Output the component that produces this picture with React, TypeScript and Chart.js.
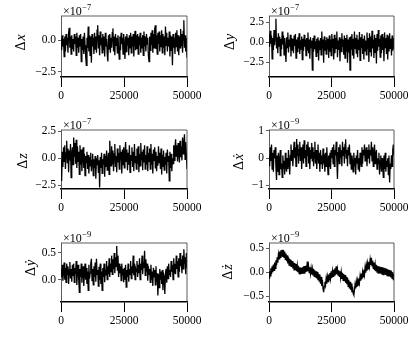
import React, { useEffect, useRef } from "react";
import { Chart, registerables } from "chart.js";

Chart.register(...registerables);

// ---------- data (values in units of the panel's exponent) ----------
const X_MAX = 50000;
const xTickValues = [0, 25000, 50000];

const dxValues = [
  0.2, -0.8, 0.4, -0.5, 0.1, -1.3, 0.3, -0.9, 0.5, -0.4, 0.2, -1.0, 0.6, 1.0, -0.6, 0.3, -1.1, 0.4, -0.7, 0.1,
  -0.9, 0.5, -0.3, 0.3, -1.2, 0.6, -0.6, 0.2, -1.0, 0.4, -0.5, 0.5, -1.7, 0.1, -0.8, 0.3, -1.1, 0.6, -0.4, -1.3,
  -2.0, 0.2, -0.6, 1.1, -0.9, 0.4, -1.2, 0.3, -1.8, 0.5, -0.5, 0.2, -1.1, 0.6, -0.7, 0.3, -1.0, 0.8, 1.2, -0.6,
  0.4, -1.2, 0.7, -0.4, 0.2, -1.0, 0.5, -0.8, 0.3, -1.3, 0.6, -0.5, 0.1, -1.1, -1.7, 0.4, -0.7, 0.5, -1.0, 0.2,
  -0.6, 0.6, 0.95, -0.9, 0.3, -1.2, 0.5, -0.4, 0.2, -1.0, 0.4, -0.7, -1.5, 0.3, -0.8, 0.6, -0.3, 0.2, -1.1, 0.5,
  -0.5, -1.5, 0.3, -0.9, 0.5, -0.4, 0.2, -1.2, 0.4, -0.6, 0.6, -1.0, 0.3, -0.5, 0.5, -1.3, 0.2, 0.75, -0.8, 0.4,
  -0.7, 0.5, -1.1, 0.3, -0.4, 0.6, -1.0, 0.2, -0.6, 0.4, -1.2, 0.7, -0.5, 0.3, -0.9, 0.5, -0.3, 0.2, -1.2, -1.7,
  0.3, -0.8, 0.6, -0.4, 0.8, -1.0, 0.5, -0.6, 0.9, 1.2, -0.7, 0.4, -1.1, 0.6, -0.3, 0.7, -0.9, 0.4, -0.5, 0.8,
  -1.0, 0.5, -0.6, 0.3, -1.2, 1.1, -0.4, 0.6, -0.9, 0.2, -0.5, 0.7, -1.3, 0.4, -0.8, 0.3, -2.0, 0.5, -0.6, 0.2,
  -1.1, 0.6, -0.5, 0.8, -0.9, 0.4, -1.2, 0.3, -0.6, 0.9, -0.4, 0.5, -1.0, 0.7, 1.6, -0.6, 0.4, -0.9, 0.2, -1.4,
];

const dyValues = [
  1.0, -0.6, 1.4, -0.2, 0.8, -2.1, 0.5, -1.0, 1.5, -0.4, 0.9, 2.9, -0.8, 0.6, -1.4, 1.1, -0.5, 0.7, -1.7, 0.4,
  -0.9, 1.3, -0.3, 0.8, -1.6, 0.5, -1.1, -2.5, 0.6, -0.7, 1.2, -1.3, 0.3, -0.6, 0.9, -1.8, 0.5, -1.0, 0.4, -1.4,
  0.8, -0.5, 1.0, -2.0, 0.3, -1.2, 0.6, -0.8, 1.1, -1.5, 0.2, -0.9, 0.7, -2.2, 0.4, -1.1, 0.9, -0.6, 0.3, -1.7,
  0.5, -1.0, 1.2, -1.4, 0.3, -2.1, 0.6, -0.7, 0.2, -3.5, 0.5, -1.2, 0.8, -0.9, 0.1, -1.8, 0.4, -1.3, 0.6, -2.3,
  0.2, -1.0, 0.5, -1.6, 1.3, -0.8, 0.3, -2.6, 0.7, -1.1, 0.2, -1.5, 0.6, -0.9, 0.4, -2.0, 0.8, -1.2, 0.3, -1.7,
  1.0, -0.7, 0.4, -2.2, 0.9, -1.4, 0.5, -0.8, 1.3, -1.9, 0.2, -1.0, 0.6, -2.4, 0.4, -1.2, 1.1, -0.6, 0.3, -1.6,
  0.8, -2.0, 0.5, -1.1, 0.9, -2.6, 0.3, -1.3, 0.6, -3.5, 0.7, -0.9, 1.0, -1.7, 0.4, -2.1, 1.3, -0.8, 0.5, -1.4,
  0.9, -1.9, 0.3, -1.0, 1.25, -2.3, 0.6, -0.7, 1.0, -1.5, 0.4, -2.2, 0.8, -1.1, 0.2, -1.6, 1.2, -0.9, 0.5, -2.5,
  1.1, -1.2, 0.7, -1.8, 1.4, -0.8, 0.3, -2.0, 0.9, -1.3, 0.5, -2.7, 1.0, -1.1, 1.5, -0.6, 0.4, -1.9, 0.8, -1.4,
  1.0, -1.0, 0.6, -2.4, 1.2, -0.7, 0.5, -1.5, 0.9, -2.2, 0.7, -1.2, 1.1, -0.8, 0.4, -1.7, 0.8, -1.1, 0.5, -0.9,
];

const dzValues = [
  -0.2, -2.1, 0.6, -0.8, 1.0, -0.3, 1.2, -1.0, 0.5, 1.6, -0.4, 0.9, -1.3, 0.7, -0.2, 1.3, -1.8, 0.4, 1.0, -0.6,
  1.9, 0.2, 1.4, -0.5, 1.7, -0.9, 1.1, -0.3, 0.6, -1.5, 1.2, -0.6, 0.8, -1.2, 0.3, 1.0, -0.9, 0.4, -1.6, 0.2,
  -0.4, 0.6, -1.0, 0.3, -1.4, 0.1, -0.7, 0.5, -1.2, -0.2, 0.4, -1.6, -0.1, -0.9, 0.2, -1.9, 0.0, -0.6, 0.3, -1.3,
  -0.2, -2.7, 0.1, -0.9, 0.5, -1.4, -0.1, -0.6, 0.4, -1.7, 0.2, -0.8, 0.7, -1.1, -0.3, 0.5, -1.5, 1.6, 0.2, -0.7,
  1.1, -0.5, 0.7, -1.2, 0.4, 1.3, -0.8, 0.2, -1.3, 0.9, -0.4, 0.5, -1.0, 1.2, -0.2, 0.6, -1.4, 0.8, -0.6, 1.0,
  -0.9, 0.4, 1.5, -0.3, 0.8, -1.1, 0.5, -0.6, 1.2, -1.3, 0.3, -0.2, 1.0, -0.8, 0.6, -1.2, 1.3, -0.4, 0.2, -1.0,
  0.9, -0.5, 1.1, -1.3, 0.4, -0.7, 1.4, -0.2, 0.6, -1.1, 0.8, -0.4, 1.2, -1.0, 0.3, -0.6, 1.1, -1.2, 0.5, -0.3,
  0.9, -1.0, 1.3, -0.6, 0.4, -1.4, 0.8, -0.2, 1.0, -0.9, 0.6, -1.2, 0.2, -0.7, 1.1, -0.4, 0.5, -1.0, 0.9, -1.5,
  0.3, -0.8, 0.7, -1.1, 0.1, -0.6, 0.5, -1.4, 0.8, -0.3, 0.2, -2.1, 0.6, -0.9, 0.4, -1.2, 0.0, -0.5, 1.2, -0.2,
  0.9, 1.74, 0.2, 1.2, -0.3, 1.4, 0.5, -0.4, 1.6, 0.1, 1.1, -0.2, 1.9, 0.4, 1.3, 2.2, -0.1, 1.5, 0.3, -1.0,
];

const dxDotValues = [
  0.1, -0.3, 0.4, -0.1, 0.5, -0.4, 0.2, -0.5, 0.3, 0.0, 0.4, -0.3, -0.8, 0.1, -0.5, 0.2, -0.6, -0.1, 0.3, -0.4,
  -0.2, -0.7, 0.1, -0.4, -0.1, -0.6, 0.2, -0.3, -0.5, 0.0, -0.4, 0.3, -0.2, -0.6, 0.1, 0.5, -0.1, 0.3, -0.3, 0.2,
  0.6, 0.0, 0.4, -0.3, 0.7, 0.1, 0.5, -0.2, 0.3, 0.6, -0.1, 0.4, -0.4, 0.2, 0.5, -0.2, 0.65, 0.0, 0.3, -0.3,
  0.5, 0.1, 0.6, -0.2, 0.4, -0.4, 0.3, 0.0, 0.55, -0.1, 0.4, -0.3, 0.2, 0.6, -0.2, 0.3, -0.4, 0.1, 0.5, -0.2,
  0.2, -0.5, 0.3, -0.2, 0.1, -0.4, 0.35, -0.1, 0.0, -0.5, 0.2, -0.3, 0.4, -0.1, -0.6, 0.1, -0.3, 0.2, -0.4, 0.3,
  0.0, 0.4, -0.2, 0.5, -0.3, 0.3, 0.1, 0.6, -0.1, -0.76, 0.2, 0.4, -0.2, 0.5, 0.0, 0.3, -0.3, 0.6, 0.1, 0.4,
  -0.2, 0.5, 0.69, 0.0, 0.3, -0.3, 0.4, 0.1, 0.5, -0.2, 0.2, -0.4, 0.1, -0.1, -0.5, 0.2, -0.3, 0.0, -0.6, 0.1,
  -0.2, 0.3, -0.4, 0.0, -0.5, 0.2, -0.1, -0.3, 0.4, -0.2, 0.3, 0.1, 0.5, -0.1, 0.2, 0.4, -0.3, 0.3, 0.0, 0.5,
  -0.2, 0.3, 0.1, 0.6, -0.1, 0.4, -0.3, 0.2, 0.5, -0.2, 0.1, 0.3, -0.4, 0.0, -0.2, 0.2, -0.6, -0.1, 0.1, -0.5,
  0.0, -0.3, -0.7, 0.1, -0.4, 0.2, -0.5, -0.1, -0.3, 0.0, -0.6, 0.1, -0.89, -0.2, -0.4, 0.1, -0.3, 0.3, 0.5, 0.1,
];

const dyDotValues = [
  0.2, 0.05, 0.28, -0.02, 0.15, 0.32, 0.0, 0.22, -0.05, 0.3, 0.1, 0.25, -0.08, 0.18, 0.33, 0.02, 0.2, -0.04, 0.28, 0.08,
  0.3, -0.05, 0.22, 0.1, 0.35, -0.1, 0.15, 0.28, 0.0, -0.24, 0.2, 0.05, 0.3, -0.06, 0.18, 0.25, -0.12, 0.12, 0.3, 0.0,
  0.22, -0.08, 0.15, -0.2, 0.28, 0.02, 0.12, 0.3, 0.39, -0.02, 0.2, -0.1, 0.25, 0.05, 0.32, -0.04, 0.39, 0.1, 0.18, -0.12,
  0.24, 0.0, 0.3, -0.08, 0.15, -0.2, 0.22, 0.05, 0.3, -0.05, 0.18, 0.08, 0.35, 0.0, 0.25, 0.1, 0.4, 0.05, 0.3, 0.15,
  0.45, 0.1, 0.38, 0.2, 0.5, 0.12, 0.42, 0.25, 0.63, 0.18, 0.45, 0.05, 0.3, 0.12, 0.25, -0.02, 0.3, 0.08, 0.2, -0.05,
  0.22, 0.0, 0.28, -0.14, 0.18, 0.05, 0.3, -0.04, 0.2, 0.1, 0.35, 0.02, 0.25, 0.12, 0.45, 0.08, 0.3, 0.0, 0.2, 0.15,
  0.35, 0.05, 0.28, 0.12, 0.4, 0.0, 0.3, 0.18, 0.45, 0.1, 0.32, 0.22, 0.54, 0.08, 0.38, 0.15, 0.3, -0.02, 0.25, 0.1,
  0.2, -0.05, 0.28, 0.0, 0.15, -0.12, 0.22, 0.05, 0.18, -0.1, 0.25, -0.05, 0.12, -0.3, 0.1, -0.15, 0.2, 0.0, 0.15, -0.08,
  0.18, -0.2, 0.1, 0.05, -0.27, 0.12, 0.2, -0.06, 0.25, 0.02, 0.3, 0.1, 0.18, 0.05, 0.35, 0.15, 0.28, 0.0, 0.4, 0.12,
  0.3, 0.1, 0.45, 0.2, 0.35, 0.05, 0.4, 0.15, 0.5, 0.25, 0.38, 0.12, 0.45, 0.2, 0.57, 0.3, 0.42, 0.1, 0.5, 0.22,
];

const dzDotValues = [
  -0.12, 0.02, -0.08, 0.08, -0.04, 0.12, 0.0, 0.16, 0.04, 0.2, 0.08, 0.25, 0.14, 0.31, 0.2, 0.37, 0.28, 0.43, 0.31, 0.46,
  0.33, 0.47, 0.32, 0.46, 0.31, 0.43, 0.27, 0.39, 0.23, 0.35, 0.18, 0.31, 0.15, 0.28, 0.13, 0.26, 0.11, 0.23, 0.08, 0.2,
  0.05, 0.19, 0.04, 0.17, 0.02, 0.14, 0.0, 0.12, -0.03, 0.1, -0.05, 0.09, -0.04, 0.1, -0.03, 0.12, -0.02, 0.13, 0.0, 0.14,
  0.01, 0.22, 0.02, 0.12, -0.01, 0.1, -0.03, 0.08, -0.05, 0.06, -0.07, 0.07, -0.09, 0.04, -0.11, 0.02, -0.13, 0.0, -0.17, -0.04,
  -0.19, -0.05, -0.24, -0.1, -0.29, -0.16, -0.35, -0.42, -0.3, -0.2, -0.27, -0.13, -0.24, -0.1, -0.2, -0.05, -0.16, -0.02, -0.13, 0.02,
  -0.12, 0.02, -0.09, 0.05, -0.06, 0.08, -0.05, 0.12, -0.04, 0.06, -0.06, 0.04, -0.09, 0.02, -0.12, 0.0, -0.14, -0.02, -0.17, -0.04,
  -0.19, -0.06, -0.22, -0.1, -0.25, -0.12, -0.3, -0.16, -0.34, -0.2, -0.37, -0.24, -0.42, -0.3, -0.45, -0.48, -0.38, -0.26, -0.34, -0.2,
  -0.31, -0.18, -0.27, -0.13, -0.22, -0.08, -0.18, -0.03, -0.15, 0.0, -0.1, 0.05, -0.05, 0.1, -0.01, 0.14, 0.03, 0.18, 0.07, 0.22,
  0.12, 0.26, 0.15, 0.3, 0.13, 0.24, 0.08, 0.2, 0.04, 0.16, 0.02, 0.15, 0.0, 0.13, -0.02, 0.12, -0.02, 0.11, -0.03, 0.1,
  -0.04, 0.1, -0.05, 0.09, -0.05, 0.08, -0.06, 0.07, -0.07, 0.06, -0.08, 0.05, -0.09, 0.04, -0.11, 0.02, -0.13, 0.0, -0.17, -0.04,
];

const yTicksDx = [-2.5, 0];
const yTicksDy = [-2.5, 0, 2.5];
const yTicksDz = [-2.5, 0, 2.5];
const yTicksDxDot = [-1, 0, 1];
const yTicksDyDot = [0, 0.5];
const yTicksDzDot = [-0.5, 0, 0.5];

const exp7 = "\u22127";
const exp9 = "\u22129";

// ---------- layout / style ----------
const SERIF = '"Liberation Serif", "DejaVu Serif", serif';
const Y_AXIS_W = 60;
const X_AXIS_H = 30;
const PAD_TOP = 22;
const PAD_RIGHT = 20;

type PanelCfg = {
  values: number[];
  ticks: number[];
  decimals: number;
  min: number;
  max: number;
  exp: string;
  variable: string;
  L: number; T: number; W: number; H: number;
  labelX: number; labelY: number;
};

const panels: PanelCfg[] = [
  { values: dxValues, ticks: yTicksDx, decimals: 1, min: -2.94, max: 1.94, exp: exp7, variable: "x",
    L: 61, T: 16, W: 126, H: 61, labelX: 25, labelY: 42.5 },
  { values: dyValues, ticks: yTicksDy, decimals: 1, min: -4.375, max: 3.25, exp: exp7, variable: "y",
    L: 269, T: 16, W: 125, H: 61, labelX: 234, labelY: 42 },
  { values: dzValues, ticks: yTicksDz, decimals: 1, min: -2.84, max: 2.6, exp: exp7, variable: "z",
    L: 61, T: 130, W: 126, H: 59, labelX: 26.5, labelY: 161 },
  { values: dxDotValues, ticks: yTicksDxDot, decimals: 0, min: -1.13, max: 1.03, exp: exp9, variable: "\u1E8B",
    L: 269, T: 130, W: 125, H: 59, labelX: 243, labelY: 162 },
  { values: dyDotValues, ticks: yTicksDyDot, decimals: 1, min: -0.42, max: 0.687, exp: exp9, variable: "\u1E8F",
    L: 61, T: 243, W: 126, H: 59, labelX: 35, labelY: 268 },
  { values: dzDotValues, ticks: yTicksDzDot, decimals: 1, min: -0.625, max: 0.61, exp: exp9, variable: "\u017C",
    L: 269, T: 243, W: 125, H: 59, labelX: 232, labelY: 272 },
];

const fmt = (v: number, d: number) => {
  const s = (Math.abs(v) < 1e-12 ? 0 : v).toFixed(d);
  return s.replace("-", "\u2212");
};

const decorPlugin = {
  id: "decor",
  afterDraw(chart: any) {
    const p = chart.options.plugins.decor;
    const { ctx, chartArea: a } = chart;
    ctx.save();
    // top & right spines
    ctx.strokeStyle = "#333";
    ctx.lineWidth = 0.8;
    ctx.beginPath();
    ctx.moveTo(a.left, a.top);
    ctx.lineTo(a.right, a.top);
    ctx.lineTo(a.right, a.bottom);
    ctx.stroke();
    // offset text
    ctx.fillStyle = "#000";
    ctx.textBaseline = "alphabetic";
    ctx.textAlign = "left";
    ctx.font = `12px ${SERIF}`;
    ctx.fillText("\u00D710", a.left + 2, a.top - 1);
    const w = ctx.measureText("\u00D710").width;
    ctx.font = `8.5px ${SERIF}`;
    ctx.fillText(p.exp, a.left + 2 + w + 0.5, a.top - 6);
    // y label: upright Delta + italic variable, rotated
    ctx.translate(p.lx, p.ly);
    ctx.rotate(-Math.PI / 2);
    ctx.font = `14px ${SERIF}`;
    const wd = ctx.measureText("\u0394").width;
    ctx.font = `italic 14px ${SERIF}`;
    const wv = ctx.measureText(p.variable).width;
    const start = -(wd + wv + 1) / 2;
    ctx.font = `14px ${SERIF}`;
    ctx.fillText("\u0394", start, 0);
    ctx.font = `italic 14px ${SERIF}`;
    ctx.fillText(p.variable, start + wd + 1, 0);
    ctx.restore();
  },
};

function Panel({ cfg }: { cfg: PanelCfg }) {
  const ref = useRef<HTMLCanvasElement>(null);
  const cw = Y_AXIS_W + cfg.W + PAD_RIGHT;
  const ch = PAD_TOP + cfg.H + X_AXIS_H;
  const left = cfg.L - Y_AXIS_W;
  const top = cfg.T - PAD_TOP;

  useEffect(() => {
    if (!ref.current) return;
    const n = cfg.values.length;
    const points = cfg.values.map((y, i) => ({ x: (i * X_MAX) / (n - 1), y }));
    const chart = new Chart(ref.current, {
      type: "line",
      data: {
        datasets: [
          {
            data: points,
            borderColor: "#000",
            borderWidth: 1.3,
            pointRadius: 0,
            tension: 0,
            fill: false,
          },
        ],
      },
      plugins: [decorPlugin as any],
      options: {
        responsive: false,
        animation: false,
        devicePixelRatio: 1,
        layout: { padding: { top: PAD_TOP, right: PAD_RIGHT, left: 0, bottom: 0 } },
        plugins: {
          legend: { display: false },
          tooltip: { enabled: false },
          title: { display: false },
          decor: {
            exp: cfg.exp,
            variable: cfg.variable,
            lx: cfg.labelX - left,
            ly: cfg.labelY - top,
          },
        } as any,
        scales: {
          x: {
            type: "linear",
            min: 0,
            max: X_MAX,
            afterBuildTicks: (s: any) => {
              s.ticks = xTickValues.map((v) => ({ value: v }));
            },
            afterFit: (s: any) => {
              s.height = X_AXIS_H;
            },
            ticks: {
              callback: (v: any) => String(v),
              color: "#000",
              font: { family: SERIF, size: 11.5 },
              padding: 2,
              maxRotation: 0,
              autoSkip: false,
            },
            grid: {
              drawOnChartArea: false,
              drawTicks: true,
              tickLength: 10,
              color: "#000",
              lineWidth: 1,
            },
            border: { display: true, color: "#000", width: 1.5 },
          },
          y: {
            type: "linear",
            min: cfg.min,
            max: cfg.max,
            afterBuildTicks: (s: any) => {
              s.ticks = cfg.ticks
                .filter((v) => v >= cfg.min && v <= cfg.max)
                .map((v) => ({ value: v }));
            },
            afterFit: (s: any) => {
              s.width = Y_AXIS_W;
            },
            ticks: {
              callback: (v: any) => fmt(Number(v), cfg.decimals),
              color: "#000",
              font: { family: SERIF, size: 11.5 },
              padding: 2,
              autoSkip: false,
            },
            grid: {
              drawOnChartArea: false,
              drawTicks: true,
              tickLength: 3,
              color: "#333",
              lineWidth: 0.8,
            },
            border: { display: true, color: "#333", width: 0.8 },
          },
        },
      },
    } as any);
    return () => chart.destroy();
  }, [cfg]);

  return (
    <canvas
      ref={ref}
      width={cw}
      height={ch}
      style={{ position: "absolute", left, top, width: cw, height: ch }}
    />
  );
}

export default function App() {
  return (
    <div
      style={{
        position: "absolute",
        left: 0,
        top: 0,
        width: 415,
        height: 339,
        background: "#fff",
        overflow: "hidden",
      }}
    >
      {panels.map((p, i) => (
        <Panel key={i} cfg={p} />
      ))}
    </div>
  );
}
